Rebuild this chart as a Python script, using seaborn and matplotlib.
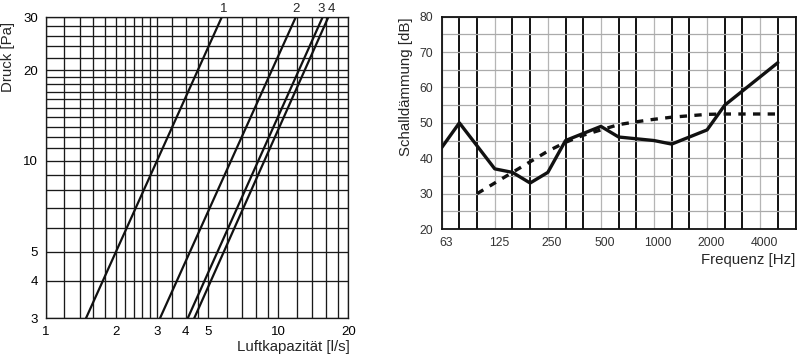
# Luftkapazität / Druck (log-log) and Schalldämmung per Terzband, side by side

import numpy as np
import pandas as pd
import matplotlib
matplotlib.use('Agg')
import matplotlib.pyplot as plt
import matplotlib.transforms as mtransforms
from matplotlib.ticker import NullFormatter
import seaborn as sns

# ==============================================
# Left chart data: four units, straight lines in log-log
curve_names = ['1', '2', '3', '4']
p_ends = [3, 30]
q_at_3 = [1.49, 3.10, 4.08, 4.35]
q_at_30 = [5.71, 11.88, 15.5, 16.4]

q_grid = [1, 1.2, 1.4, 1.6, 1.8, 2, 2.2, 2.4, 2.6, 2.8, 3, 3.5, 4, 4.5, 5,
          6, 7, 8, 9, 10, 12, 14, 16, 18, 20]
p_grid = [3, 4, 5, 6, 7, 8, 9, 10, 11, 12, 13, 14, 15, 16, 17, 18, 19, 20,
          22, 24, 26, 28, 30]
q_ticks = [1, 2, 3, 4, 5, 10, 20]
p_ticks = [3, 4, 5, 10, 20, 30]

# ==============================================
# Right chart data: third-octave bands
bands = ['63', '80', '100', '125', '160', '200', '250', '315', '400', '500',
         '630', '800', '1000', '1250', '1600', '2000', '2500', '3150', '4000',
         '5000', '6300']
octave_labels = ['63', '125', '250', '500', '1000', '2000', '4000']
measured_bands = bands[:20]
measured = [43, 50, 43.5, 37, 36, 33, 36, 45, 47, 49, 46, 45.5, 45, 44, 46,
            48, 55, 59, 63, 67]
reference_bands = bands[2:20]
reference = [30, 33, 36, 39, 42, 44.5, 46.5, 48, 49.5, 50.3, 51, 51.6, 52,
             52.4, 52.5, 52.5, 52.5, 52.5]

# ==============================================
# Tidy frames
rows = []
for name, q0, q1 in zip(curve_names, q_at_3, q_at_30):
    rows.append({'unit': name, 'q': q0, 'p': p_ends[0]})
    rows.append({'unit': name, 'q': q1, 'p': p_ends[1]})
left_df = pd.DataFrame(rows)

meas_df = pd.DataFrame({'band': [bands.index(b) for b in measured_bands],
                        'value': measured})
ref_df = pd.DataFrame({'band': [bands.index(b) for b in reference_bands],
                       'value': reference})

# ==============================================
# Plot it
sns.set_style('white')
plt.rcParams['font.family'] = ['Liberation Sans', 'DejaVu Sans']

fig = plt.figure(figsize=(8, 3.59), dpi=100)
ax1 = fig.add_axes([0.0571, 0.1134, 0.3783, 0.8384])
ax2 = fig.add_axes([0.5521, 0.3621, 0.4423, 0.5914])

# ---- left
ax1.set_xscale('log')
ax1.set_yscale('log')
sns.lineplot(data=left_df, x='q', y='p', units='unit', estimator=None,
             color='#111111', lw=1.6, ax=ax1)
ax1.set_xlim(q_grid[0], q_grid[-1])
ax1.set_ylim(p_grid[0], p_grid[-1])
ax1.set_xticks(q_ticks)
ax1.set_xticklabels([str(v) for v in q_ticks])
ax1.set_yticks(p_ticks)
ax1.set_yticklabels([str(v) for v in p_ticks])
ax1.set_xticks(q_grid, minor=True)
ax1.set_yticks(p_grid, minor=True)
ax1.xaxis.set_minor_formatter(NullFormatter())
ax1.yaxis.set_minor_formatter(NullFormatter())
ax1.grid(which='both', color='#1a1a1a', lw=0.95)
ax1.set_axisbelow(True)
ax1.tick_params(which='major', length=3, width=0.8, labelsize=9.5, pad=2.5,
                colors='black')
ax1.tick_params(which='minor', length=0)
for sp in ax1.spines.values():
    sp.set_color('#1a1a1a')
    sp.set_linewidth(0.95)

ax1.set_xlabel('Luftkapazität [l/s]', fontsize=10.8, loc='right')
ax1.xaxis.set_label_coords(1.006, -0.072)
ax1.set_ylabel('Druck [Pa]', fontsize=10.8)
ax1.yaxis.label.set_va('bottom')
ax1.yaxis.set_label_coords(-0.1015, 0.868)

name_shift = [2.5, 0.5, -1.5, 3.5]  # px, to keep the numbers apart
for name, q1, dx in zip(curve_names, q_at_30, name_shift):
    ax1.annotate(name, xy=(q1, p_ends[1]), xytext=(dx * 0.72, 4.0),
                 textcoords='offset points', ha='center', va='baseline',
                 fontsize=9.5, annotation_clip=False)

# ---- right
sns.lineplot(data=meas_df, x='band', y='value', color='#111111', lw=2.4,
             ax=ax2)
sns.lineplot(data=ref_df, x='band', y='value', color='#111111', lw=2.4,
             linestyle=(0, (2.2, 2.2)), ax=ax2)
ax2.set_xlim(0, len(bands) - 1)
ax2.set_ylim(20, 80)
major_idx = [bands.index(b) for b in octave_labels]
minor_idx = [i for i, b in enumerate(bands) if b not in octave_labels]
ax2.set_xticks(major_idx)
ax2.set_xticklabels(octave_labels)
ax2.set_xticks(minor_idx, minor=True)
ax2.set_yticks(np.arange(20, 81, 10))
ax2.set_yticks(np.arange(25, 80, 10), minor=True)
ax2.yaxis.grid(which='both', color='#aaaaaa', lw=0.9)
ax2.xaxis.grid(which='major', color='#b5b5b5', lw=0.9)
ax2.xaxis.grid(which='minor', color='#111111', lw=1.4)
ax2.set_axisbelow(True)
ax2.tick_params(which='major', length=4, width=0.8, color='#333333',
                labelsize=8.8, labelcolor='#333333', pad=2)
ax2.tick_params(which='minor', length=0)
for sp in ax2.spines.values():
    sp.set_color('#111111')
    sp.set_linewidth(1.3)

shift = mtransforms.ScaledTranslation(4 / 100, 0, fig.dpi_scale_trans)
for lbl in ax2.get_xticklabels():
    lbl.set_transform(lbl.get_transform() + shift)

ax2.set_xlabel('Frequenz [Hz]', fontsize=10.8, loc='right')
ax2.xaxis.set_label_coords(1.0, -0.113)
ax2.set_ylabel('Schalldämmung [dB]', fontsize=10.8)
ax2.yaxis.label.set_va('bottom')
ax2.yaxis.set_label_coords(-0.080, 0.670)

fig.savefig('out.png', dpi=100)
